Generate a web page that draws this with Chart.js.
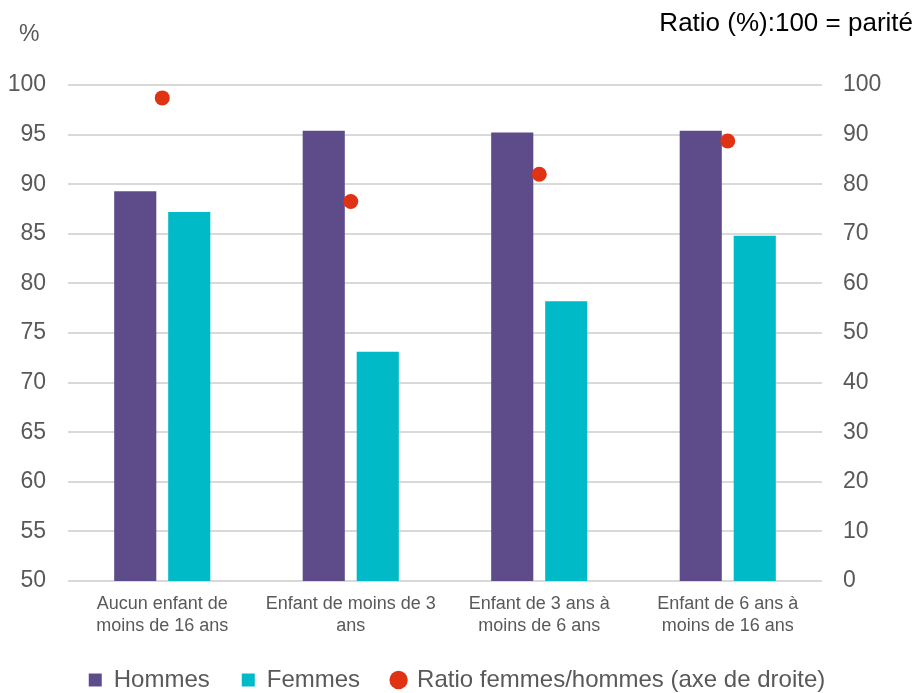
<!DOCTYPE html>
<html>
<head>
<meta charset="utf-8">
<script src="https://cdn.jsdelivr.net/npm/chart.js@4"></script>
<style>
  html, body { margin: 0; padding: 0; background: #fff; }
</style>
</head>
<body>
<canvas id="myChart" width="914" height="693"></canvas>
<script>
// donnees
const categories = [
  ["Aucun enfant de", "moins de 16 ans"],
  ["Enfant de moins de 3", "ans"],
  ["Enfant de 3 ans à", "moins de 6 ans"],
  ["Enfant de 6 ans à", "moins de 16 ans"]
];
const hommes = [89.3, 95.4, 95.2, 95.4];
const femmes = [87.2, 73.1, 78.2, 84.8];
const ratio = [97.4, 76.5, 82.0, 88.7];

const gris = "#595959";
const police = "'Liberation Sans', Arial, sans-serif";

// textes hors du graphique : "%" et "Ratio (%):100 = parité"
const textes = {
  id: "textes",
  afterDraw(chart) {
    const ctx = chart.ctx;
    ctx.save();
    ctx.textBaseline = "middle";
    ctx.font = "23px " + police;
    ctx.fillStyle = gris;
    ctx.textAlign = "left";
    ctx.fillText("%", 19, 35);
    ctx.font = "26px " + police;
    ctx.fillStyle = "#000";
    ctx.textAlign = "right";
    ctx.fillText("Ratio (%):100 = parité", 913, 24);
    ctx.restore();
  }
};

let ctx = document.getElementById("myChart").getContext("2d");
let myChart = new Chart(ctx, {
  data: {
    labels: categories,
    datasets: [
      {
        type: "bar",
        label: "Hommes",
        data: hommes,
        yAxisID: "y",
        backgroundColor: "#5E4B8A",
        pointStyle: "rect",
        order: 1
      },
      {
        type: "bar",
        label: "Femmes",
        data: femmes,
        yAxisID: "y",
        backgroundColor: "#00BBC7",
        pointStyle: "rect",
        order: 1
      },
      {
        type: "line",
        label: "Ratio femmes/hommes (axe de droite)",
        data: ratio,
        yAxisID: "y1",
        showLine: false,
        pointRadius: 7.5,
        pointHoverRadius: 7.5,
        pointBorderWidth: 0,
        pointBackgroundColor: "#E03314",
        backgroundColor: "#E03314",
        borderColor: "#E03314",
        pointStyle: "circle",
        order: 0
      }
    ]
  },
  options: {
    responsive: false,
    animation: false,
    devicePixelRatio: 1,
    layout: { padding: { top: 85, left: 0, right: 0, bottom: -9 } },
    datasets: {
      bar: { categoryPercentage: 0.573, barPercentage: 0.78 }
    },
    plugins: {
      legend: {
        position: "bottom",
        labels: {
          usePointStyle: true,
          boxWidth: 13,
          boxHeight: 13,
          padding: 32,
          color: gris,
          font: { family: police, size: 24 },
          sort: (a, b) => a.datasetIndex - b.datasetIndex
        }
      },
      tooltip: { enabled: false },
      title: { display: false }
    },
    scales: {
      x: {
        grid: { display: false, drawTicks: false },
        border: { display: false },
        ticks: {
          color: gris,
          maxRotation: 0,
          autoSkip: false,
          padding: 12,
          font: { family: police, size: 18, lineHeight: 1.22 }
        },
        afterFit(scale) { scale.height = 55; }
      },
      y: {
        position: "left",
        min: 50,
        max: 100,
        ticks: {
          stepSize: 5,
          color: gris,
          padding: 22,
          font: { family: police, size: 23 }
        },
        grid: { color: "#D9D9D9", lineWidth: 2, drawTicks: false },
        border: { display: false },
        afterFit(scale) { scale.width = 68; }
      },
      y1: {
        position: "right",
        min: 0,
        max: 100,
        ticks: {
          stepSize: 10,
          color: gris,
          padding: 21,
          font: { family: police, size: 23 }
        },
        grid: { display: false, drawTicks: false },
        border: { display: false },
        afterFit(scale) { scale.width = 92; }
      }
    }
  },
  plugins: [textes]
});
</script>
</body>
</html>
